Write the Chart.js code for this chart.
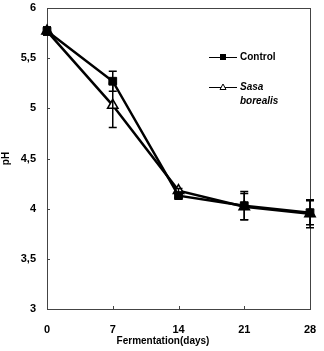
<!DOCTYPE html>
<html>
<head>
<meta charset="utf-8">
<script src="https://cdn.jsdelivr.net/npm/chart.js@4.4.1/dist/chart.umd.min.js"></script>
<style>
  html, body { margin: 0; padding: 0; background: #fff; }
  #wrap { width: 324px; height: 351px; }
</style>
</head>
<body>
<div id="wrap"><canvas id="phChart"></canvas></div>
<script>
const days = [0, 7, 14, 21, 28];
const controlPh = [5.77, 5.27, 4.13, 4.03, 3.96];
const controlErr = [0.04, 0.1, 0.02, 0.14, 0.12];
const sasaPh = [5.77, 5.03, 4.18, 4.02, 3.95];
const sasaErr = [0.04, 0.22, 0.02, 0.13, 0.14];
const yTicks = [3, 3.5, 4, 4.5, 5, 5.5, 6];

const FONT = '"Liberation Sans", Arial, sans-serif';

// error bars, inward ticks, box frame and the legend
const extras = {
  id: 'extras',
  afterDatasetsDraw(chart) {
    const { ctx, scales: { x, y } } = chart;
    ctx.save();
    ctx.strokeStyle = '#000';
    ctx.lineWidth = 1.5;
    [[controlPh, controlErr], [sasaPh, sasaErr]].forEach(([vals, errs]) => {
      vals.forEach((v, i) => {
        const px = x.getPixelForValue(days[i]);
        const top = y.getPixelForValue(v + errs[i]);
        const bot = y.getPixelForValue(v - errs[i]);
        ctx.beginPath();
        ctx.moveTo(px, top); ctx.lineTo(px, bot);
        ctx.moveTo(px - 4, top); ctx.lineTo(px + 4, top);
        ctx.moveTo(px - 4, bot); ctx.lineTo(px + 4, bot);
        ctx.stroke();
      });
    });
    ctx.restore();
  },
  beforeDatasetsDraw(chart) {
    const { ctx, chartArea: a, scales: { x, y } } = chart;
    ctx.save();
    ctx.strokeStyle = '#444';
    ctx.lineWidth = 1;
    ctx.strokeRect(Math.round(a.left) + 0.5, Math.round(a.top) + 0.5,
      Math.round(a.right - a.left), Math.round(a.bottom - a.top));
    ctx.beginPath();
    yTicks.forEach((t) => {
      const py = Math.round(y.getPixelForValue(t)) + 0.5;
      ctx.moveTo(a.left, py); ctx.lineTo(a.left + 3, py);
    });
    days.forEach((d) => {
      const px = Math.round(x.getPixelForValue(d)) + 0.5;
      ctx.moveTo(px, a.bottom); ctx.lineTo(px, a.bottom - 3);
    });
    ctx.stroke();

    // legend
    ctx.strokeStyle = '#000';
    ctx.lineWidth = 1;
    ctx.beginPath();
    ctx.moveTo(209, 57.5); ctx.lineTo(237, 57.5);
    ctx.moveTo(209, 87.5); ctx.lineTo(237, 87.5);
    ctx.stroke();
    ctx.fillStyle = '#000';
    ctx.fillRect(220, 54, 6, 6);
    ctx.beginPath();
    ctx.moveTo(223, 84); ctx.lineTo(226, 89.5); ctx.lineTo(220, 89.5); ctx.closePath();
    ctx.fillStyle = '#fff'; ctx.fill(); ctx.stroke();
    ctx.fillStyle = '#000';
    ctx.textBaseline = 'middle';
    ctx.font = 'bold 10px ' + FONT;
    ctx.fillText('Control', 240, 57);
    ctx.font = 'italic bold 10px ' + FONT;
    ctx.fillText('Sasa', 240, 87);
    ctx.fillText('borealis', 240, 101);

    // x title
    ctx.font = 'bold 10px ' + FONT;
    ctx.textAlign = 'center';
    ctx.fillText('Fermentation(days)', 163, 341);
    ctx.restore();
  }
};

new Chart(document.getElementById('phChart'), {
  type: 'line',
  data: {
    datasets: [
      {
        label: 'Control',
        data: days.map((d, i) => ({ x: d, y: controlPh[i] })),
        borderColor: '#000',
        borderWidth: 2.5,
        pointStyle: 'rect',
        pointRadius: 5.5,
        pointBackgroundColor: '#000',
        pointBorderColor: '#000',
        pointBorderWidth: 1
      },
      {
        label: 'Sasa borealis',
        data: days.map((d, i) => ({ x: d, y: sasaPh[i] })),
        borderColor: '#000',
        borderWidth: 2.5,
        pointStyle: 'triangle',
        pointRadius: 6,
        pointBackgroundColor: '#fff',
        pointBorderColor: '#000',
        pointBorderWidth: 1.5
      }
    ]
  },
  options: {
    responsive: true,
    maintainAspectRatio: false,
    animation: false,
    clip: false,
    layout: { padding: { left: 0, right: 14, top: 8, bottom: 0 } },
    plugins: { legend: { display: false }, tooltip: { enabled: false } },
    scales: {
      x: {
        type: 'linear',
        min: 0,
        max: 28,
        afterBuildTicks: (s) => { s.ticks = days.map((v) => ({ value: v })); },
        afterFit: (s) => { s.height = 42; s.paddingLeft = 0; s.paddingRight = 0; },
        grid: { display: false, drawTicks: false },
        border: { display: false },
        ticks: { color: '#000', padding: 14, font: { family: FONT, size: 11, weight: 'bold' } }
      },
      y: {
        min: 3,
        max: 6,
        afterBuildTicks: (s) => { s.ticks = yTicks.map((v) => ({ value: v })); },
        afterFit: (s) => { s.width = 47; s.paddingTop = 0; s.paddingBottom = 0; },
        grid: { display: false, drawTicks: false },
        border: { display: false },
        title: { display: true, text: 'pH', color: '#000', padding: 0, font: { family: FONT, size: 10, weight: 'bold' } },
        ticks: {
          color: '#000',
          padding: 11,
          font: { family: FONT, size: 11, weight: 'bold' },
          callback: (v) => String(v).replace('.', ',')
        }
      }
    }
  },
  plugins: [extras]
});
</script>
</body>
</html>
